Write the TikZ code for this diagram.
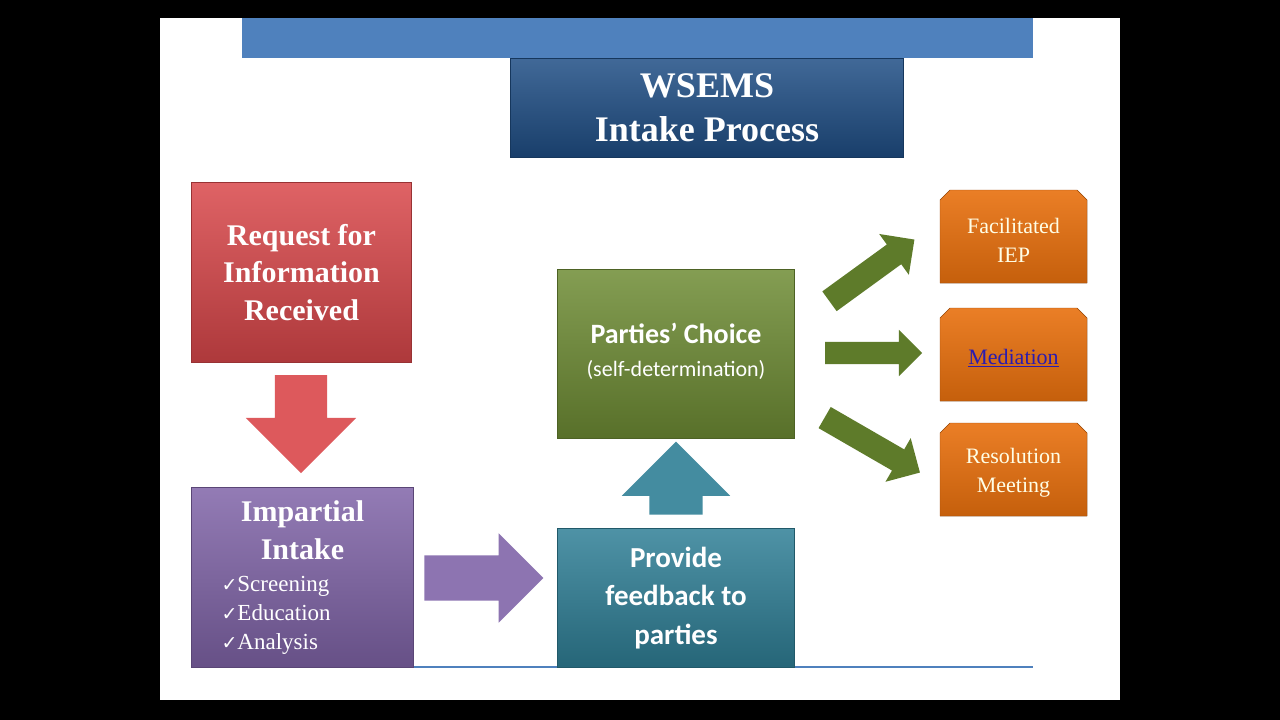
\documentclass[tikz,border=0pt]{standalone}
\usepackage{fontspec}
\setmainfont{Liberation Serif}
\setsansfont{Carlito}
\usetikzlibrary{shapes.arrows}
\definecolor{barblue}{HTML}{4F81BD}
\definecolor{titleblue}{HTML}{1F4E85}
\definecolor{boxred}{HTML}{D9474A}
\definecolor{boxpurple}{HTML}{8064A8}
\definecolor{boxteal}{HTML}{2F7F96}
\definecolor{boxgreen}{HTML}{6E8C34}
\definecolor{boxorange}{HTML}{E8700E}
\definecolor{arrowgreen}{HTML}{5E7B2A}
\definecolor{linkblue}{HTML}{2A1BB0}

\begin{document}
\begin{tikzpicture}[x=1pt,y=-1pt,
    box/.style={anchor=north west, inner sep=0pt, draw=#1!70!black, line width=1pt,
      top color=#1!85!white, bottom color=#1!80!black},
    blk/.style={single arrow, inner xsep=0pt, draw=none, fill=#1},
    txt/.style={text=white, align=center, font=#1}]
    \useasboundingbox (0,0) rectangle (1280,720);
    \fill [black] (0,0) rectangle (1280,720);
    \fill [white] (160,18) rectangle (1120,700);
    \fill [barblue] (242,18) rectangle (1033,58);
    \draw [barblue, line width=1.5pt] (191,667) -- (1033,667);
    % title
    \node [box=titleblue, minimum width=393pt, minimum height=99pt] (title) at (510,58) {};
    \node [txt=\bfseries\fontsize{36}{44}\selectfont] at (title.center) {WSEMS\\Intake Process};
    % left column
    \node [box=boxred, minimum width=220pt, minimum height=180pt] (request) at (191,182) {};
    \node [txt=\bfseries\fontsize{30}{37.5}\selectfont] at (request.center) {Request for\\Information\\Received};
    \node [box=boxpurple, minimum width=222pt, minimum height=180pt] (intake) at (191,487) {};
    \node [txt=\bfseries\fontsize{30}{38}\selectfont, anchor=north] at ([yshift=-10pt]intake.north) {Impartial\\Intake};
    \node [txt=\fontsize{23}{29}\selectfont, align=left, anchor=north west] at (218,573)
      {\fontspec{DejaVu Sans}\fontsize{19}{29}\selectfont ✓\fontspec{Liberation Serif}\fontsize{23}{29}\selectfont Screening\\
       \fontspec{DejaVu Sans}\fontsize{19}{29}\selectfont ✓\fontspec{Liberation Serif}\fontsize{23}{29}\selectfont Education\\
       \fontspec{DejaVu Sans}\fontsize{19}{29}\selectfont ✓\fontspec{Liberation Serif}\fontsize{23}{29}\selectfont Analysis};
    % middle column
    \node [box=boxteal, minimum width=237pt, minimum height=139pt] (feedback) at (557,528) {};
    \node [txt=\sffamily\bfseries\fontsize{29}{38.5}\selectfont] at (feedback.center) {Provide\\feedback to\\parties};
    \node [box=boxgreen, minimum width=237pt, minimum height=169pt] (choice) at (557,269) {};
    \node [txt=\sffamily\fontsize{22}{33}\selectfont] at ([yshift=3pt]choice.center)
      {{\bfseries\fontsize{28}{33}\selectfont Parties’ Choice}\\(self-determination)};
    % block arrows
    \node [blk=boxred!90, rotate=-90, minimum height=98pt, inner ysep=26pt, single arrow head extend=29pt] (downarr) at (301,411) {};
    \node [blk=boxpurple!90, minimum height=119pt, inner ysep=22.5pt, single arrow head extend=22pt] (rightarr) at (472.5,578) {};
    \node [blk=boxteal!90, rotate=90, minimum height=73pt, inner ysep=26.5pt, single arrow head extend=27.5pt] (uparr) at (676,491.5) {};
    \node [blk=arrowgreen, rotate=36, minimum height=105pt, inner ysep=12pt, single arrow head extend=13pt] (arrfac) at (867,274) {};
    \node [blk=arrowgreen, minimum height=97pt, inner ysep=11pt, single arrow head extend=12pt] (arrmed) at (868,353) {};
    \node [blk=arrowgreen, rotate=-30, minimum height=110pt, inner ysep=12pt, single arrow head extend=13pt] (arrres) at (867,442) {};
    % outcomes
    \foreach \name/\top/\label in {facil/190/{Facilitated\\IEP}, medi/308/{\textcolor{linkblue}{\underline{Mediation}}}, resol/423/{Resolution\\Meeting}} {
      \filldraw [draw=boxorange!70!black, top color=boxorange!90!white, bottom color=boxorange!85!black]
        (940,\top+10) -- (950,\top) -- (1077,\top) -- (1087,\top+10) -- (1087,\top+93) -- (940,\top+93) -- cycle;
      \node [txt=\fontsize{22}{29}\selectfont, text=white!90!yellow] (\name) at (1013.5,\top+50) {\label};
    }
\end{tikzpicture}
\end{document}
